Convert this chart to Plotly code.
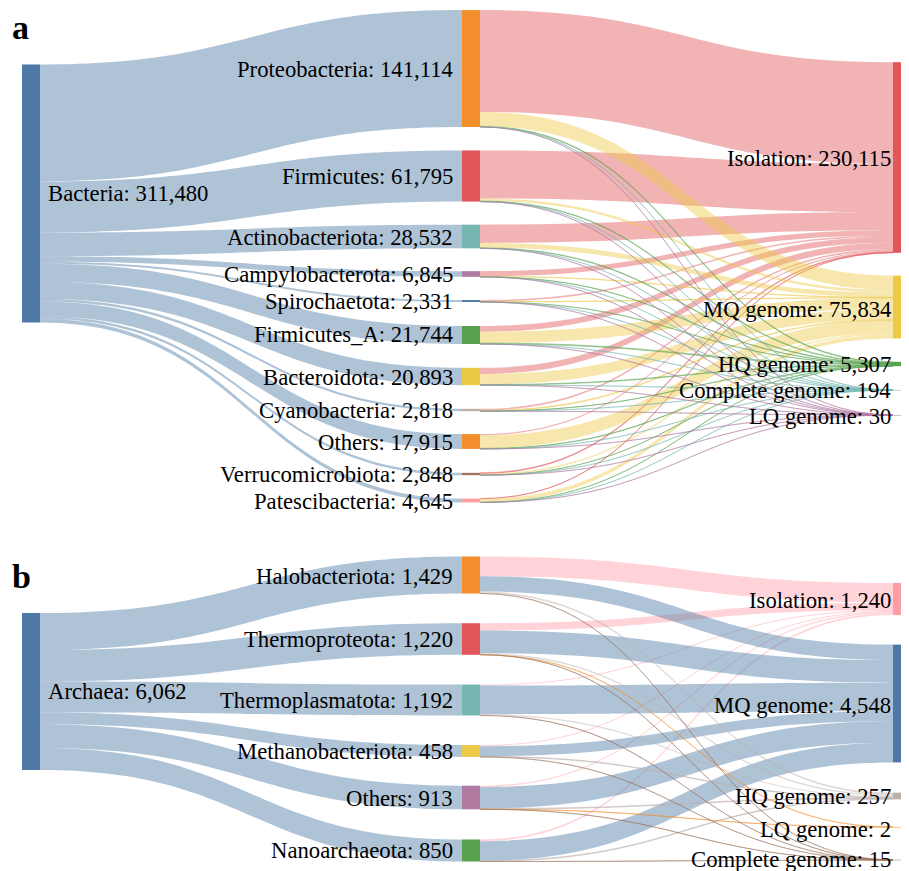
from typing import List, Dict
import plotly.graph_objects as go

# tableau-like palette used for nodes
COLORS: Dict[str, str] = {
    'blue': '#4e79a7', 'orange': '#f28e2b', 'red': '#e15759', 'teal': '#76b7b2',
    'green': '#59a14f', 'yellow': '#edc948', 'purple': '#b07aa1', 'pink': '#ff9da7',
    'brown': '#9c755f', 'gray': '#bab0ac',
}

# ---- panel a: bacteria ----
BACTERIA_TOTAL = 311480
BACTERIA_PHYLA = ['Proteobacteria', 'Firmicutes', 'Actinobacteriota', 'Campylobacterota', 'Spirochaetota',
                  'Firmicutes_A', 'Bacteroidota', 'Cyanobacteria', 'Others', 'Verrucomicrobiota',
                  'Patescibacteria']
BACTERIA_PHYLUM_COUNTS = [141114, 61795, 28532, 6845, 2331, 21744, 20893, 2818, 17915, 2848, 4645]
BACTERIA_QUALITY = ['Isolation', 'MQ genome', 'HQ genome', 'Complete genome', 'LQ genome']
BACTERIA_QUALITY_COUNTS = [230115, 75834, 5307, 194, 30]
# split of each phylum (same order as BACTERIA_PHYLA), estimated from band widths
BACTERIA_ISOLATION = [123000, 58000, 22000, 6200, 1900, 7000, 7500, 1900, 1500, 900, 215]
BACTERIA_MQ = [17239, 3037, 5820, 510, 359, 13624, 12615, 807, 15712, 1808, 4303]
BACTERIA_HQ = [830, 730, 690, 125, 65, 1090, 755, 97, 680, 128, 117]
BACTERIA_COMPLETE = [40, 25, 20, 8, 5, 25, 20, 12, 20, 10, 9]
BACTERIA_LQ = [5, 3, 2, 2, 2, 5, 3, 2, 3, 2, 1]

# ---- panel b: archaea ----
ARCHAEA_TOTAL = 6062
ARCHAEA_PHYLA = ['Halobacteriota', 'Thermoproteota', 'Thermoplasmatota', 'Methanobacteriota', 'Others',
                 'Nanoarchaeota']
ARCHAEA_PHYLUM_COUNTS = [1429, 1220, 1192, 458, 913, 850]
ARCHAEA_QUALITY = ['Isolation', 'MQ genome', 'HQ genome', 'LQ genome', 'Complete genome']
ARCHAEA_QUALITY_COUNTS = [1240, 4548, 257, 2, 15]
ARCHAEA_ISOLATION = [760, 280, 40, 45, 50, 65]
ARCHAEA_MQ = [595, 876, 1105, 386, 830, 756]
ARCHAEA_HQ = [70, 60, 45, 25, 30, 27]
ARCHAEA_LQ = [0, 1, 0, 0, 1, 0]
ARCHAEA_COMPLETE = [4, 3, 2, 2, 2, 2]

FONT = 'Liberation Serif'
FONT_SIZE = 22.7
FIG_W, FIG_H = 909, 871
SHIFT = 8                # page margin: everything lands this many px right/down on screen
COL_X = [31, 471, 902]   # node column centres, screen px
LABEL_RIGHT = [None, 455, 893]  # right edge of labels for middle / right columns


def rgba(hex_color: str, alpha: float = 0.45) -> str:
    h = hex_color.lstrip('#')
    r, g, b = int(h[0:2], 16), int(h[2:4], 16), int(h[4:6], 16)
    return f'rgba({r},{g},{b},{alpha})'


def paper_xy(px: float, py: float):
    """screen px -> paper coords"""
    return (px - SHIFT) / FIG_W, 1 - (py - SHIFT) / FIG_H


def build_panel(root: str, root_total: int, phyla: List[str], phylum_counts: List[int],
                quality: List[str], quality_counts: List[int], splits: List[List[int]],
                root_color: str, phylum_colors: List[str], quality_colors: List[str],
                centers_px: List[float], label_y_px: List[float], top_px: float, height_px: float,
                pad: float):
    """Three column sankey (root -> phyla -> genome quality) plus its text labels as annotations.

    splits[j][i] is the flow phylum i -> quality j. top_px / height_px are in figure px.
    """
    labels = [f'{root}: {root_total:,}']
    labels += [f'{p}: {c:,}' for p, c in zip(phyla, phylum_counts)]
    labels += [f'{q}: {c:,}' for q, c in zip(quality, quality_counts)]
    colors = [root_color] + phylum_colors + quality_colors
    cols = [0] + [1] * len(phyla) + [2] * len(quality)
    node_x = [(COL_X[c] - SHIFT) / FIG_W for c in cols]
    node_y = [(cy - top_px - SHIFT) / height_px for cy in centers_px]

    source, target, value, link_colors = [], [], [], []
    for i, c in enumerate(phylum_counts):
        source.append(0)
        target.append(1 + i)
        value.append(c)
        link_colors.append(rgba(root_color))
    q0 = 1 + len(phyla)
    for j, row in enumerate(splits):
        for i, v in enumerate(row):
            if v <= 0:
                continue
            source.append(1 + i)
            target.append(q0 + j)
            value.append(v)
            link_colors.append(rgba(quality_colors[j]))

    # node texts go in as annotations (plotly would put middle labels on the right side)
    trace = go.Sankey(
        arrangement='fixed',
        domain=dict(x=[0, 1], y=[1 - (top_px + height_px) / FIG_H, 1 - top_px / FIG_H]),
        valueformat=',',
        node=dict(label=[''] * len(labels), customdata=labels, hovertemplate='%{customdata}<extra></extra>',
                  color=colors, x=node_x, y=node_y, pad=pad, thickness=18, line=dict(width=0)),
        link=dict(source=source, target=target, value=value, color=link_colors),
    )

    annotations = []
    for text, col, ly in zip(labels, cols, label_y_px):
        if col == 0:
            ax, anchor = COL_X[0] + 15, 'left'
        else:
            ax, anchor = LABEL_RIGHT[col], 'right'
        x, y = paper_xy(ax, ly)
        annotations.append(dict(text=text, x=x, y=y, xref='paper', yref='paper',
                                xanchor=anchor, yanchor='middle', showarrow=False,
                                font=dict(family=FONT, size=FONT_SIZE, color='black')))
    return trace, annotations


centers_a = [193.5, 68.5, 176, 236.5, 274, 301, 335, 376.5, 410, 441.5, 474, 500.5,
             157.5, 307, 364, 390, 415]
labels_a = [194, 70, 176, 237, 274, 301, 335, 377, 410, 442, 474, 501,
            158, 309, 364, 390, 416]
sankey_a, notes_a = build_panel(
    'Bacteria', BACTERIA_TOTAL, BACTERIA_PHYLA, BACTERIA_PHYLUM_COUNTS,
    BACTERIA_QUALITY, BACTERIA_QUALITY_COUNTS,
    [BACTERIA_ISOLATION, BACTERIA_MQ, BACTERIA_HQ, BACTERIA_COMPLETE, BACTERIA_LQ],
    COLORS['blue'],
    [COLORS[k] for k in ['orange', 'red', 'teal', 'purple', 'blue', 'green', 'yellow', 'gray', 'orange',
                         'brown', 'pink']],
    [COLORS[k] for k in ['red', 'yellow', 'green', 'teal', 'purple']],
    centers_a, labels_a, top_px=0, height_px=498, pad=24)

centers_b = [691.5, 575, 639, 700, 751, 797.5, 850.5, 599, 703.5, 796, 827, 860]
labels_b = [691, 576, 639, 700, 751, 798, 850, 600, 705, 796, 829, 859]
sankey_b, notes_b = build_panel(
    'Archaea', ARCHAEA_TOTAL, ARCHAEA_PHYLA, ARCHAEA_PHYLUM_COUNTS,
    ARCHAEA_QUALITY, ARCHAEA_QUALITY_COUNTS,
    [ARCHAEA_ISOLATION, ARCHAEA_MQ, ARCHAEA_HQ, ARCHAEA_LQ, ARCHAEA_COMPLETE],
    COLORS['blue'],
    [COLORS[k] for k in ['orange', 'red', 'teal', 'yellow', 'purple', 'green']],
    [COLORS[k] for k in ['pink', 'blue', 'gray', 'orange', 'brown']],
    centers_b, labels_b, top_px=547, height_px=307, pad=30)

letter_font = dict(family=FONT, size=34, color='black')
panel_letters = [
    dict(text='<b>a</b>', x=2 / FIG_W, y=1 + 1 / FIG_H, xref='paper', yref='paper',
         xanchor='left', yanchor='top', showarrow=False, font=letter_font),
    dict(text='<b>b</b>', x=2 / FIG_W, y=1 - 548 / FIG_H, xref='paper', yref='paper',
         xanchor='left', yanchor='top', showarrow=False, font=letter_font),
]

fig = go.Figure([sankey_a, sankey_b])
fig.update_layout(
    width=FIG_W, height=FIG_H,
    margin=dict(l=0, r=0, t=0, b=0),
    paper_bgcolor='white',
    font=dict(family=FONT),
    annotations=notes_a + notes_b + panel_letters,
)
fig.write_html('out.html')
